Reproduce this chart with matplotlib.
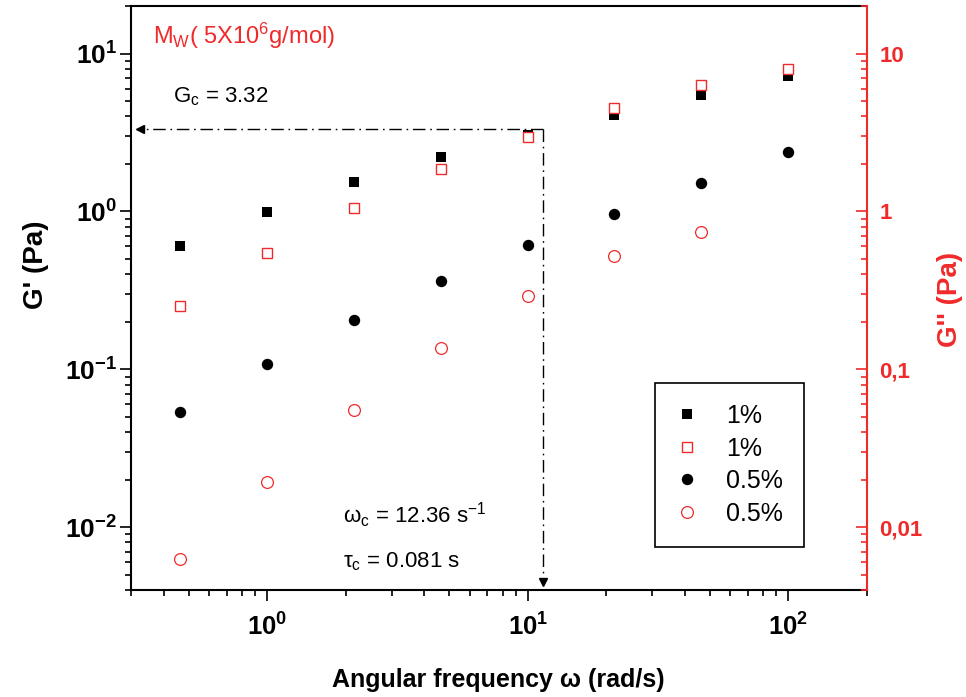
import numpy as np
import matplotlib
matplotlib.use('Agg')
import matplotlib.pyplot as plt
from matplotlib.ticker import LogLocator, FuncFormatter, FixedLocator, NullFormatter

plt.rcParams['font.family'] = ['Liberation Sans', 'DejaVu Sans']
plt.rcParams['mathtext.fontset'] = 'custom'
plt.rcParams['mathtext.rm'] = 'Liberation Sans'
plt.rcParams['mathtext.it'] = 'Liberation Sans:italic'
plt.rcParams['mathtext.bf'] = 'Liberation Sans:bold'

# donnees
freq = [0.464, 1.0, 2.15, 4.64, 10.0, 21.5, 46.4, 100.0]
g1_storage = [0.608, 0.99, 1.54, 2.21, 3.06, 4.08, 5.46, 7.16]
g1_loss = [0.251, 0.546, 1.05, 1.86, 2.94, 4.50, 6.32, 8.01]
g05_storage = [0.0535, 0.108, 0.204, 0.363, 0.614, 0.969, 1.51, 2.39]
g05_loss = [0.00625, 0.0194, 0.0555, 0.137, 0.290, 0.520, 0.738]
labels = ['1%', '1%', '0.5%', '0.5%']
right_ticks = [0.01, 0.1, 1, 10]
right_labels = ['0,01', '0,1', '1', '10']

gc = 3.32      # niveau de la fleche horizontale
wc_mark = 11.4  # position de la fleche verticale
arrow_x_end = 0.325
arrow_y_end = 0.0045

red = '#f02a2a'

fig = plt.figure(figsize=(9.66, 6.97), dpi=100)
ax = fig.add_axes([131/966, 1-590/697, (866.7-131)/966, (590-6)/697])
ax2 = ax.twinx()

for a in (ax, ax2):
    a.set_xscale('log')
    a.set_yscale('log')
    a.set_xlim(0.3, 200)
    a.set_ylim(0.004, 20)

# G' sur l'axe gauche
h1, = ax.plot(freq, g1_storage, 's', color='k', ms=6.7, mew=0)
h3, = ax.plot(freq, g05_storage, 'o', color='k', ms=8.2, mew=0)
# G'' sur l'axe droit
h2, = ax2.plot(freq, g1_loss, 's', mfc='white', mec=red, mew=1.0, ms=6.8)
h4, = ax2.plot(freq[:len(g05_loss)], g05_loss, 'o', mfc='white', mec=red, mew=0.9, ms=8.5)

# lignes de croisement
dash = (0, (9, 3.4, 1.2, 3.4))
ax.plot([wc_mark, arrow_x_end], [gc, gc], color='k', lw=1, ls=dash)
ax.plot([wc_mark, wc_mark], [gc, arrow_y_end], color='k', lw=1, ls=dash)
ax.plot([arrow_x_end], [gc], '<', color='k', ms=6)
ax.plot([wc_mark], [arrow_y_end], 'v', color='k', ms=6)

# spines
for s in ['left', 'bottom', 'top']:
    ax.spines[s].set_linewidth(1.5)
ax.spines['right'].set_visible(False)
for s in ['left', 'bottom', 'top']:
    ax2.spines[s].set_visible(False)
ax2.spines['right'].set_color(red)
ax2.spines['right'].set_linewidth(1.5)

# ticks axe gauche / bas
ax.xaxis.set_major_locator(LogLocator(base=10, numticks=10))
ax.xaxis.set_minor_locator(LogLocator(base=10, subs=np.arange(2, 10), numticks=20))
ax.xaxis.set_minor_formatter(NullFormatter())
ax.yaxis.set_major_locator(LogLocator(base=10, numticks=10))
ax.yaxis.set_minor_locator(LogLocator(base=10, subs=np.arange(2, 10), numticks=20))
ax.yaxis.set_minor_formatter(NullFormatter())
pow_fmt = FuncFormatter(lambda v, p: r'$\mathbf{10^{%d}}$' % int(round(np.log10(v))))
ax.xaxis.set_major_formatter(pow_fmt)
ax.yaxis.set_major_formatter(pow_fmt)
ax.tick_params(which='both', direction='out', top=False, right=False, width=1.2)
ax.tick_params(which='major', length=8)
ax.tick_params(which='minor', length=4.5)
ax.tick_params(axis='x', which='major', labelsize=18.5, pad=9)
ax.tick_params(axis='y', which='major', labelsize=19, pad=2)

# ticks axe droit
ax2.yaxis.set_major_locator(FixedLocator(right_ticks))
ax2.yaxis.set_major_formatter(FuncFormatter(lambda v, p: right_labels[right_ticks.index(v)] if v in right_ticks else ''))
ax2.yaxis.set_minor_locator(LogLocator(base=10, subs=np.arange(2, 10), numticks=20))
ax2.yaxis.set_minor_formatter(NullFormatter())
ax2.tick_params(axis='y', which='both', direction='in', colors=red, width=1.2)
ax2.tick_params(axis='y', which='major', length=8, labelsize=16, pad=9)
ax2.tick_params(axis='y', which='minor', length=4.5)
for t in ax2.get_yticklabels():
    t.set_fontweight('bold')

# titres des axes
ax.set_xlabel('Angular frequency ω (rad/s)', fontsize=18, fontweight='bold')
ax.xaxis.set_label_coords(0.499, -0.133)
ax.set_ylabel("G' (Pa)", fontsize=20, fontweight='bold')
ax.yaxis.set_label_coords(-0.112, 0.557)
ax2.set_ylabel("G'' (Pa)", fontsize=20, fontweight='bold', color=red, rotation=90)
ax2.yaxis.set_label_coords(1.095, 0.497)

# annotations
ax.text(0.030, 0.935, r'M$_\mathrm{W}$( 5X10$^\mathrm{6}$g/mol)', transform=ax.transAxes,
        fontsize=17, color=red, va='baseline')
ax.text(0.057, 0.8356, r'G$_\mathrm{c}$ = 3.32', transform=ax.transAxes, fontsize=16, va='baseline')
ax.text(0.288, 0.1142, r'ω$_\mathrm{c}$ = 12.36 s$^\mathrm{-1}$', transform=ax.transAxes,
        fontsize=16, va='baseline')
ax.text(0.288, 0.0394, r'τ$_\mathrm{c}$ = 0.081 s', transform=ax.transAxes, fontsize=16, va='baseline')

leg = ax2.legend([h1, h2, h3, h4], labels, loc='upper left',
                 bbox_to_anchor=(655/966, 1-383/697), bbox_transform=fig.transFigure,
                 borderaxespad=0, fontsize=18, frameon=True, fancybox=False,
                 edgecolor='k', framealpha=1, borderpad=0.85, handlelength=0.86,
                 handletextpad=1.14, labelspacing=0.34)
leg.get_frame().set_linewidth(1.2)

fig.savefig('out.png', dpi=100)
